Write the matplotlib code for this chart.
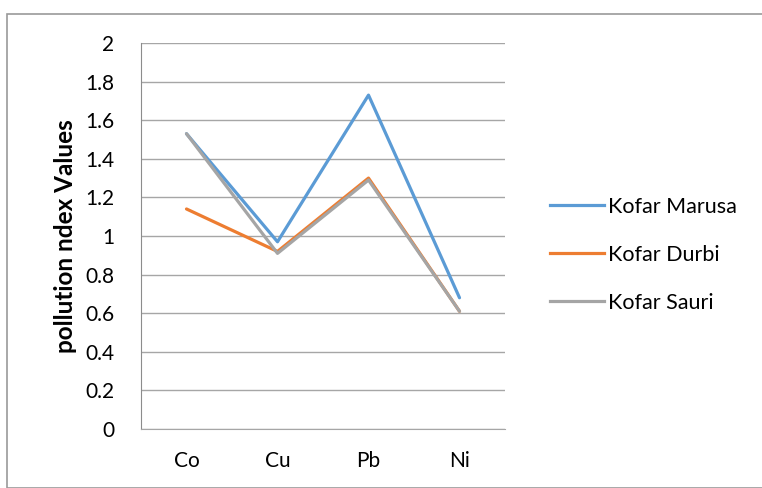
import matplotlib.pyplot as plt
from matplotlib.patches import Rectangle
from matplotlib.lines import Line2D

metals = ['Co', 'Cu', 'Pb', 'Ni']
kofar_marusa = [1.53, 0.97, 1.73, 0.68]
kofar_durbi = [1.14, 0.92, 1.30, 0.61]
kofar_sauri = [1.53, 0.91, 1.29, 0.61]
yticks = [0, 0.2, 0.4, 0.6, 0.8, 1, 1.2, 1.4, 1.6, 1.8, 2]

plt.rcParams['font.family'] = ['Lato', 'DejaVu Sans']

fig = plt.figure(figsize=(7.62, 4.88), dpi=100)
W, H = 762, 488

# outer chart border
fig.patches.append(Rectangle((7 / W, 0), 1, 1 - 13.5 / H, transform=fig.transFigure,
                             fill=False, edgecolor='#9a9a9a', linewidth=1.2))

ax = fig.add_axes([141 / W, 1 - 429 / H, 364 / W, 386 / H])
x = [0.5, 1.5, 2.5, 3.5]
series = [(kofar_marusa, '#5B9BD5', 'Kofar Marusa'),
          (kofar_durbi, '#ED7D31', 'Kofar Durbi'),
          (kofar_sauri, '#A5A5A5', 'Kofar Sauri')]
for vals, col, name in series:
    ax.plot(x, vals, color=col, linewidth=2.3, label=name, solid_capstyle='round', zorder=3)

ax.set_xlim(0, 4)
ax.set_ylim(0, 2)
ax.set_yticks(yticks)
ax.set_yticklabels([f'{v:g}' for v in yticks])
ax.set_xticks(x)
ax.set_xticklabels(metals)
ax.yaxis.grid(True, color='#a6a6a6', linewidth=1)
ax.set_axisbelow(True)
for s in ['top', 'right']:
    ax.spines[s].set_visible(False)
ax.spines['left'].set_color('#8c8c8c')
ax.spines['bottom'].set_color('#a6a6a6')
ax.tick_params(length=0, labelsize=15, colors='black')
ax.tick_params(axis='y', pad=19)
ax.tick_params(axis='x', pad=16)
ax.set_ylabel('pollution ndex Values', fontsize=17.5, fontweight='bold', labelpad=6)

handles = [Line2D([], [], color=c, linewidth=2.3) for _, c, _ in series]
fig.legend(handles, [n for _, _, n in series], loc='center left',
           bbox_to_anchor=(531 / W, 1 - 255 / H), frameon=False, fontsize=15.5,
           handlelength=2.5, handletextpad=0.2, labelspacing=1.3)

fig.savefig('out.png', dpi=100)
